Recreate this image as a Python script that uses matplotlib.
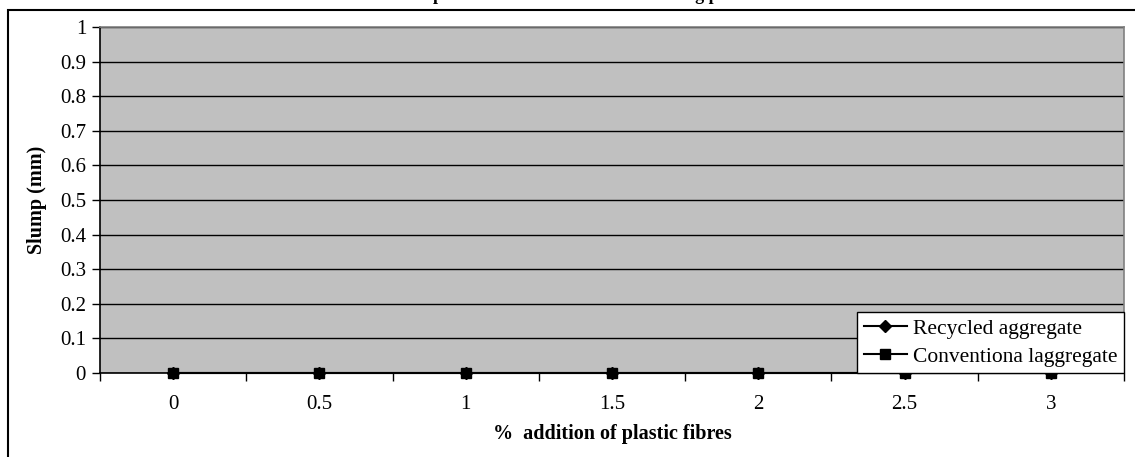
import matplotlib.pyplot as plt
import matplotlib.patches as mpatches
import numpy as np

# data
fibre_pct = ['0', '0.5', '1', '1.5', '2', '2.5', '3']
recycled = [0, 0, 0, 0, 0, 0, 0]
conventional = [0, 0, 0, 0, 0, 0, 0]
y_ticks = [0, 0.1, 0.2, 0.3, 0.4, 0.5, 0.6, 0.7, 0.8, 0.9, 1]

plt.rcParams['font.family'] = ['Liberation Serif', 'DejaVu Serif']

W, H = 1135, 457
fig = plt.figure(figsize=(W / 100, H / 100), dpi=100)
ax = fig.add_axes([100 / W, 1 - 373 / H, 1024 / W, 346 / H])

# outer chart frame (cut off at right and bottom)
frame = mpatches.Rectangle((8 / W, -0.2), 1.5, 1 - 10 / H + 0.2, transform=fig.transFigure,
                           fill=False, edgecolor='black', linewidth=1.5, clip_on=False)
fig.patches.append(frame)

# title sits above the visible area, only its descenders show
fig.text(600 / W, 1 + 0.5 / H, 'Slump test results of the two mixes using plastic fibres',
         ha='center', va='baseline', fontsize=13, fontweight='bold')

ax.set_facecolor('#C0C0C0')
for s in ax.spines.values():
    s.set_color('#808080')
    s.set_linewidth(1.2)
ax.spines['left'].set_color('black')
ax.spines['bottom'].set_color('black')

x = np.arange(len(fibre_pct))
ax.plot(x, recycled, color='black', lw=1.5, marker='D', ms=6, label='Recycled aggregate', zorder=3, clip_on=False)
ax.plot(x, conventional, color='black', lw=1.5, marker='s', ms=6.5, label='Conventiona laggregate', zorder=4, clip_on=False)

ax.set_ylim(0, 1)
ax.set_yticks(y_ticks)
ax.set_yticklabels([f'{v:g}' for v in y_ticks])
ax.yaxis.grid(True, color='black', lw=1)
ax.set_axisbelow(True)

ax.set_xlim(-0.5, len(fibre_pct) - 0.5)
ax.set_xticks(np.arange(-0.5, len(fibre_pct), 1))
ax.set_xticklabels([])
ax.set_xticks(x, minor=True)
ax.set_xticklabels(fibre_pct, minor=True)
ax.tick_params(axis='x', which='minor', length=0, pad=16, labelsize=15)
ax.tick_params(axis='x', which='major', direction='out', length=6, width=1)
ax.tick_params(axis='y', direction='out', length=6, width=1, labelsize=15, pad=4)

ax.set_ylabel('Slump (mm)', fontsize=14.5, fontweight='bold', labelpad=9)
ax.set_xlabel('%  addition of plastic fibres', fontsize=14.5, fontweight='bold', labelpad=7)

leg = ax.legend(loc='lower right', bbox_to_anchor=(1.0, 0.0), fontsize=15.5, frameon=True,
                fancybox=False, edgecolor='black', framealpha=1, borderaxespad=0,
                handlelength=2.0, handletextpad=0.3, labelspacing=0.35, borderpad=0.3)
leg.get_frame().set_linewidth(1)
leg.set_zorder(10)

fig.savefig('out.png', dpi=100)
